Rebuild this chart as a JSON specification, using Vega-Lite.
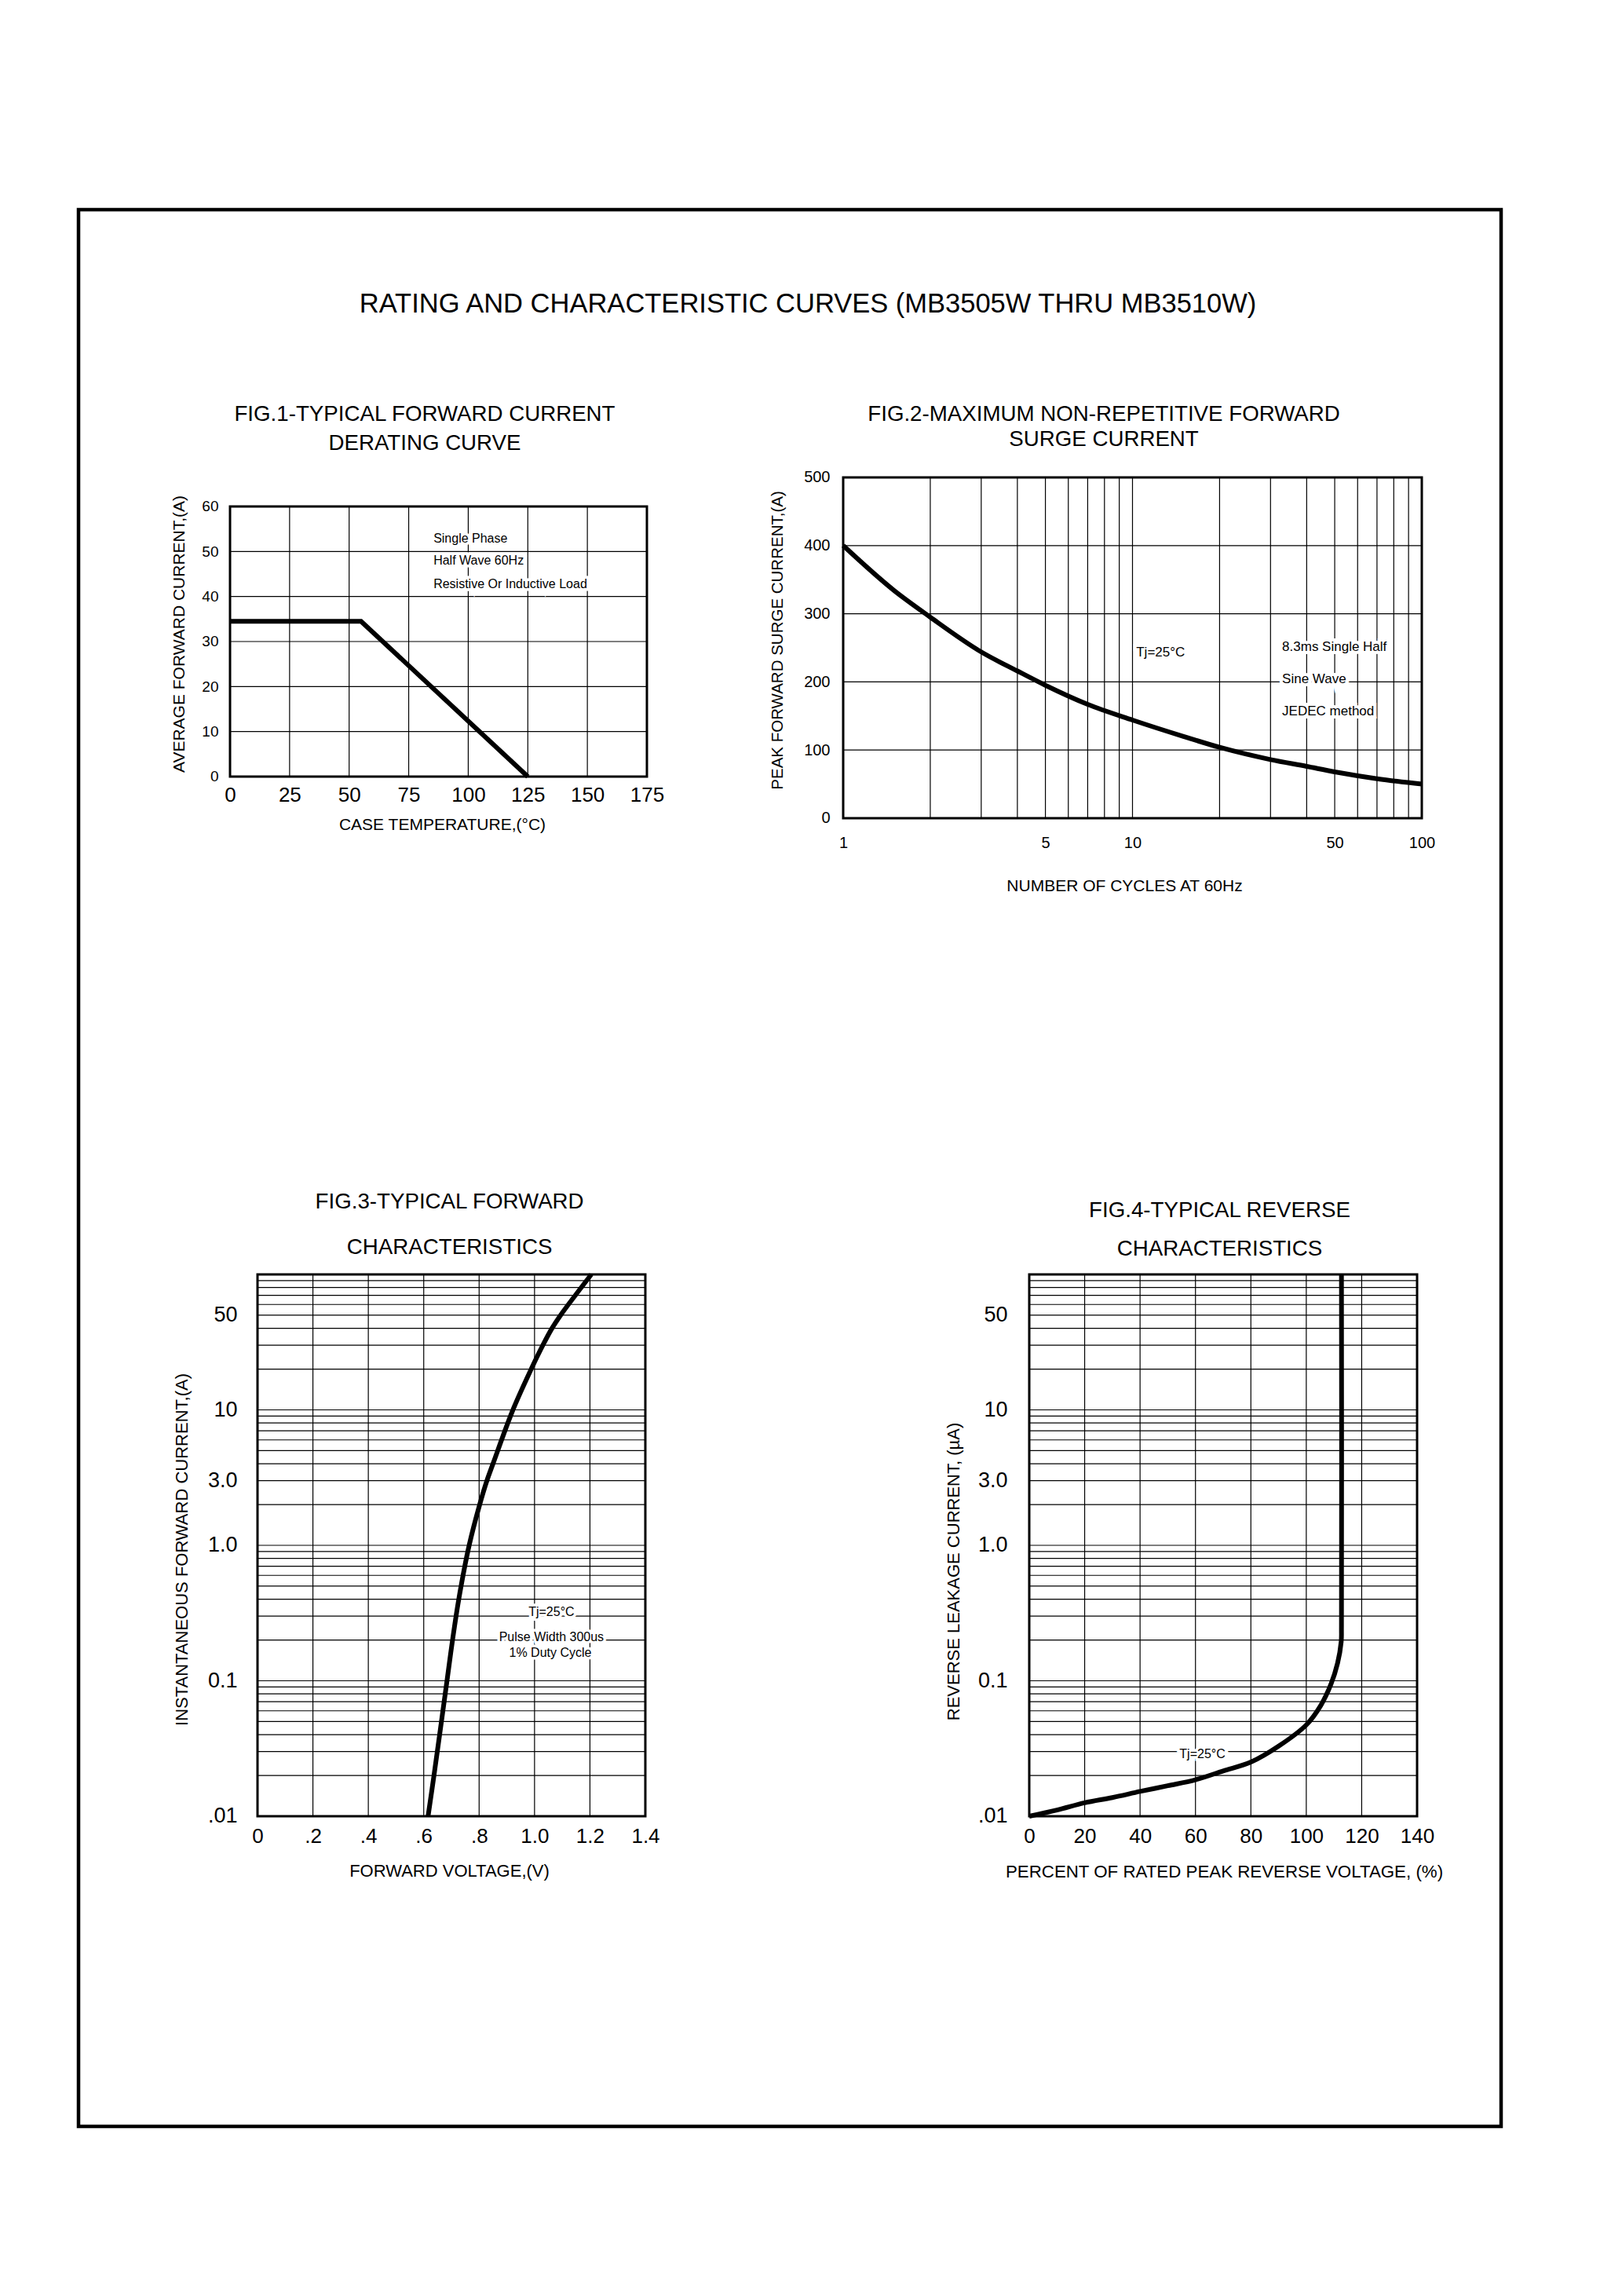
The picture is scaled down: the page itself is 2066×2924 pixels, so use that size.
{
  "$schema": "https://vega.github.io/schema/vega-lite/v6.json",
  "background": "white",
  "autosize": {"type": "none"},
  "padding": {"left": 100, "top": 267, "right": 154, "bottom": 216},
  "width": 1812,
  "height": 2441,
  "view": {"stroke": "black", "strokeWidth": 4.5},
  "title": {"text": "RATING AND CHARACTERISTIC CURVES (MB3505W THRU MB3510W)", "fontSize": 34.5, "offset": -138, "dx": 23},
  "resolve": {
    "scale": {"x": "independent", "y": "independent"},
    "axis": {"x": "independent", "y": "independent"}
  },
  "layer": [
    {
      "layer": [
        {
          "data": {"values": [{"x": 25}, {"x": 50}, {"x": 75}, {"x": 100}, {"x": 125}, {"x": 150}]},
          "mark": {"type": "rule", "color": "black", "strokeWidth": 1.2},
          "encoding": {
            "x": {"field": "x", "type": "quantitative", "scale": {"domain": [-63.606, 533.57], "nice": false, "zero": false}},
            "y": {"datum": 0, "type": "quantitative", "scale": {"domain": [-299.826, 125.93], "nice": false, "zero": false}},
            "y2": {"datum": 60}
          }
        },
        {
          "data": {"values": [{"y": 10}, {"y": 20}, {"y": 30}, {"y": 40}, {"y": 50}]},
          "mark": {"type": "rule", "color": "black", "strokeWidth": 1.2},
          "encoding": {
            "x": {"datum": 0, "type": "quantitative", "scale": {"domain": [-63.606, 533.57], "nice": false, "zero": false}},
            "x2": {"datum": 175},
            "y": {"field": "y", "type": "quantitative", "scale": {"domain": [-299.826, 125.93], "nice": false, "zero": false}}
          }
        },
        {
          "data": {"values": [{"x": 0, "y": 0, "x2": 175, "y2": 60}]},
          "mark": {"type": "rect", "fill": "white", "fillOpacity": 0, "stroke": "black", "strokeWidth": 3},
          "encoding": {
            "x": {"field": "x", "type": "quantitative", "scale": {"domain": [-63.606, 533.57], "nice": false, "zero": false}},
            "x2": {"field": "x2"},
            "y": {"field": "y", "type": "quantitative", "scale": {"domain": [-299.826, 125.93], "nice": false, "zero": false}},
            "y2": {"field": "y2"}
          }
        },
        {
          "data": {"values": [{"x": 81.73, "y": 80.44, "label": ["FIG.1-TYPICAL FORWARD CURRENT", "DERATING CURVE"]}]},
          "mark": {"type": "text", "fontSize": 27.7, "lineHeight": 37, "align": "center", "baseline": "middle", "color": "black"},
          "encoding": {
            "x": {"field": "x", "type": "quantitative", "scale": {"domain": [-63.606, 533.57], "nice": false, "zero": false}},
            "y": {"field": "y", "type": "quantitative", "scale": {"domain": [-299.826, 125.93], "nice": false, "zero": false}},
            "text": {"field": "label"}
          }
        },
        {
          "data": {"values": [
            {"x": 85.4, "y": 52.8, "label": "Single Phase"},
            {"x": 85.4, "y": 47.9, "label": "Half Wave 60Hz"},
            {"x": 85.4, "y": 42.8, "label": "Resistive Or Inductive Load"}
          ]},
          "encoding": {
            "x": {"field": "x", "type": "quantitative", "scale": {"domain": [-63.606, 533.57], "nice": false, "zero": false}},
            "y": {"field": "y", "type": "quantitative", "scale": {"domain": [-299.826, 125.93], "nice": false, "zero": false}},
            "text": {"field": "label"}
          },
          "layer": [
            {"mark": {"type": "text", "align": "left", "fontSize": 16, "color": "white", "stroke": "white", "strokeWidth": 7}},
            {"mark": {"type": "text", "align": "left", "fontSize": 16, "color": "black"}}
          ]
        },
        {
          "data": {"values": [
            {"x": 0, "y": 34.5},
            {"x": 55, "y": 34.5},
            {"x": 125, "y": 0}
          ]},
          "mark": {"type": "line", "color": "black", "strokeWidth": 6},
          "encoding": {
            "x": {
              "field": "x", "type": "quantitative",
              "scale": {"domain": [-63.606, 533.57], "nice": false, "zero": false},
              "axis": {"orient": "bottom", "offset": -1719, "values": [0, 25, 50, 75, 100, 125, 150, 175], "labelFontSize": 26, "labelPadding": 10, "titleFontSize": 21, "titleX": 463, "titleY": 61},
              "title": "CASE TEMPERATURE,(°C)"
            },
            "y": {
              "field": "y", "type": "quantitative",
              "scale": {"domain": [-299.826, 125.93], "nice": false, "zero": false},
              "axis": {"orient": "left", "offset": -193, "values": [0, 10, 20, 30, 40, 50, 60], "labelFontSize": 19, "labelPadding": 15, "titleFontSize": 21, "titleX": -65, "titleY": 540},
              "title": "AVERAGE FORWARD CURRENT,(A)"
            }
          }
        }
      ]
    },
    {
      "layer": [
        {
          "data": {"values": [{"x": 2}, {"x": 3}, {"x": 4}, {"x": 5}, {"x": 6}, {"x": 7}, {"x": 8}, {"x": 9}, {"x": 10}, {"x": 20}, {"x": 30}, {"x": 40}, {"x": 50}, {"x": 60}, {"x": 70}, {"x": 80}, {"x": 90}]},
          "mark": {"type": "rule", "color": "black", "strokeWidth": 1.2},
          "encoding": {
            "x": {"field": "x", "type": "quantitative", "scale": {"type": "log", "domain": [0.0022743, 187.97], "nice": false}},
            "y": {"datum": 0, "type": "quantitative", "scale": {"domain": [-1919.355, 892.857], "nice": false, "zero": false}},
            "y2": {"datum": 500}
          }
        },
        {
          "data": {"values": [{"y": 100}, {"y": 200}, {"y": 300}, {"y": 400}]},
          "mark": {"type": "rule", "color": "black", "strokeWidth": 1.2},
          "encoding": {
            "x": {"datum": 1, "type": "quantitative", "scale": {"type": "log", "domain": [0.0022743, 187.97], "nice": false}},
            "x2": {"datum": 100},
            "y": {"field": "y", "type": "quantitative", "scale": {"domain": [-1919.355, 892.857], "nice": false, "zero": false}}
          }
        },
        {
          "data": {"values": [{"x": 1, "y": 0, "x2": 100, "y2": 500}]},
          "mark": {"type": "rect", "fill": "white", "fillOpacity": 0, "stroke": "black", "strokeWidth": 3},
          "encoding": {
            "x": {"field": "x", "type": "quantitative", "scale": {"type": "log", "domain": [0.0022743, 187.97], "nice": false}},
            "x2": {"field": "x2"},
            "y": {"field": "y", "type": "quantitative", "scale": {"domain": [-1919.355, 892.857], "nice": false, "zero": false}},
            "y2": {"field": "y2"}
          }
        },
        {
          "data": {"values": [{"x": 7.961, "y": 592.4, "label": ["FIG.2-MAXIMUM NON-REPETITIVE FORWARD", "SURGE CURRENT"]}]},
          "mark": {"type": "text", "fontSize": 27.7, "lineHeight": 32, "align": "center", "baseline": "middle", "color": "black"},
          "encoding": {
            "x": {"field": "x", "type": "quantitative", "scale": {"type": "log", "domain": [0.0022743, 187.97], "nice": false}},
            "y": {"field": "y", "type": "quantitative", "scale": {"domain": [-1919.355, 892.857], "nice": false, "zero": false}},
            "text": {"field": "label"}
          }
        },
        {
          "data": {"values": [
            {"x": 10.3, "y": 243, "label": "Tj=25°C"},
            {"x": 32.9, "y": 251, "label": "8.3ms Single Half"},
            {"x": 32.9, "y": 204, "label": "Sine Wave"},
            {"x": 32.9, "y": 157, "label": "JEDEC method"}
          ]},
          "encoding": {
            "x": {"field": "x", "type": "quantitative", "scale": {"type": "log", "domain": [0.0022743, 187.97], "nice": false}},
            "y": {"field": "y", "type": "quantitative", "scale": {"domain": [-1919.355, 892.857], "nice": false, "zero": false}},
            "text": {"field": "label"}
          },
          "layer": [
            {"mark": {"type": "text", "align": "left", "fontSize": 17, "color": "white", "stroke": "white", "strokeWidth": 8}},
            {"mark": {"type": "text", "align": "left", "fontSize": 17, "color": "black"}}
          ]
        },
        {
          "data": {"values": [
            {"x": 1, "y": 400},
            {"x": 1.5, "y": 334},
            {"x": 2, "y": 295},
            {"x": 3, "y": 244},
            {"x": 4, "y": 216},
            {"x": 5, "y": 195},
            {"x": 7, "y": 167},
            {"x": 10, "y": 144},
            {"x": 15, "y": 120},
            {"x": 20, "y": 104},
            {"x": 30, "y": 86},
            {"x": 40, "y": 76},
            {"x": 50, "y": 68},
            {"x": 70, "y": 58},
            {"x": 100, "y": 50}
          ]},
          "mark": {"type": "line", "color": "black", "strokeWidth": 6, "interpolate": "monotone"},
          "encoding": {
            "x": {
              "field": "x", "type": "quantitative",
              "scale": {"type": "log", "domain": [0.0022743, 187.97], "nice": false},
              "axis": {
                "orient": "bottom", "offset": -1666,
                "values": [1, 5, 10, 50, 100],
                "labelExpr": "format(datum.value, 'd')",
                "labelFontSize": 20, "labelPadding": 21, "titleFontSize": 21, "titleX": 1332, "titleY": 86
              },
              "title": "NUMBER OF CYCLES AT 60Hz"
            },
            "y": {
              "field": "y", "type": "quantitative",
              "scale": {"domain": [-1919.355, 892.857], "nice": false, "zero": false},
              "axis": {"orient": "left", "offset": -974, "values": [0, 100, 200, 300, 400, 500], "labelFontSize": 20, "labelPadding": 17, "titleFontSize": 20.5, "titleX": -84, "titleY": 548},
              "title": "PEAK FORWARD SURGE CURRENT,(A)"
            }
          }
        }
      ]
    },
    {
      "layer": [
        {
          "data": {"values": [{"x": 0.2}, {"x": 0.4}, {"x": 0.6}, {"x": 0.8}, {"x": 1}, {"x": 1.2}]},
          "mark": {"type": "rule", "color": "black", "strokeWidth": 1.2},
          "encoding": {
            "x": {"field": "x", "type": "quantitative", "scale": {"domain": [-0.646154, 4.48907], "nice": false, "zero": false}},
            "y": {"datum": 0.01, "type": "quantitative", "scale": {"type": "log", "domain": [0.000051302, 7258800000], "nice": false}},
            "y2": {"datum": 100}
          }
        },
        {
          "data": {"values": [
            {"y": 0.02}, {"y": 0.03}, {"y": 0.04}, {"y": 0.05}, {"y": 0.06}, {"y": 0.07}, {"y": 0.08}, {"y": 0.09},
            {"y": 0.1}, {"y": 0.2}, {"y": 0.3}, {"y": 0.4}, {"y": 0.5}, {"y": 0.6}, {"y": 0.7}, {"y": 0.8}, {"y": 0.9},
            {"y": 1}, {"y": 2}, {"y": 3}, {"y": 4}, {"y": 5}, {"y": 6}, {"y": 7}, {"y": 8}, {"y": 9},
            {"y": 10}, {"y": 20}, {"y": 30}, {"y": 40}, {"y": 50}, {"y": 60}, {"y": 70}, {"y": 80}, {"y": 90}
          ]},
          "mark": {"type": "rule", "color": "black", "strokeWidth": 1.2},
          "encoding": {
            "x": {"datum": 0, "type": "quantitative", "scale": {"domain": [-0.646154, 4.48907], "nice": false, "zero": false}},
            "x2": {"datum": 1.4},
            "y": {"field": "y", "type": "quantitative", "scale": {"type": "log", "domain": [0.000051302, 7258800000], "nice": false}}
          }
        },
        {
          "data": {"values": [{"x": 0, "y": 0.01, "x2": 1.4, "y2": 100}]},
          "mark": {"type": "rect", "fill": "white", "fillOpacity": 0, "stroke": "black", "strokeWidth": 3},
          "encoding": {
            "x": {"field": "x", "type": "quantitative", "scale": {"domain": [-0.646154, 4.48907], "nice": false, "zero": false}},
            "x2": {"field": "x2"},
            "y": {"field": "y", "type": "quantitative", "scale": {"type": "log", "domain": [0.000051302, 7258800000], "nice": false}},
            "y2": {"field": "y2"}
          }
        },
        {
          "data": {"values": [{"x": 0.6932, "y": 340.6, "label": ["FIG.3-TYPICAL FORWARD", "CHARACTERISTICS"]}]},
          "mark": {"type": "text", "fontSize": 27.7, "lineHeight": 58, "align": "center", "baseline": "middle", "color": "black"},
          "encoding": {
            "x": {"field": "x", "type": "quantitative", "scale": {"domain": [-0.646154, 4.48907], "nice": false, "zero": false}},
            "y": {"field": "y", "type": "quantitative", "scale": {"type": "log", "domain": [0.000051302, 7258800000], "nice": false}},
            "text": {"field": "label"}
          }
        },
        {
          "data": {"values": [
            {"x": 1.061, "y": 0.322, "label": "Tj=25°C"},
            {"x": 1.061, "y": 0.209, "label": "Pulse Width 300us"},
            {"x": 1.057, "y": 0.161, "label": "1% Duty Cycle"}
          ]},
          "encoding": {
            "x": {"field": "x", "type": "quantitative", "scale": {"domain": [-0.646154, 4.48907], "nice": false, "zero": false}},
            "y": {"field": "y", "type": "quantitative", "scale": {"type": "log", "domain": [0.000051302, 7258800000], "nice": false}},
            "text": {"field": "label"}
          },
          "layer": [
            {"mark": {"type": "text", "align": "center", "fontSize": 16, "color": "white", "stroke": "white", "strokeWidth": 7}},
            {"mark": {"type": "text", "align": "center", "fontSize": 16, "color": "black"}}
          ]
        },
        {
          "data": {"values": [
            {"x": 0.6157, "y": 0.01},
            {"x": 0.637, "y": 0.02},
            {"x": 0.684, "y": 0.1},
            {"x": 0.704, "y": 0.2},
            {"x": 0.7265, "y": 0.4},
            {"x": 0.764, "y": 1},
            {"x": 0.802, "y": 2},
            {"x": 0.828, "y": 3},
            {"x": 0.85, "y": 4},
            {"x": 0.922, "y": 10},
            {"x": 0.988, "y": 20},
            {"x": 1.03, "y": 30},
            {"x": 1.063, "y": 40},
            {"x": 1.094, "y": 50},
            {"x": 1.147, "y": 70},
            {"x": 1.205, "y": 100}
          ]},
          "mark": {"type": "line", "color": "black", "strokeWidth": 6, "interpolate": "catmull-rom"},
          "encoding": {
            "x": {
              "field": "x", "type": "quantitative",
              "scale": {"domain": [-0.646154, 4.48907], "nice": false, "zero": false},
              "axis": {
                "orient": "bottom", "offset": -395,
                "values": [0, 0.2, 0.4, 0.6, 0.8, 1, 1.2, 1.4],
                "labelExpr": "datum.value == 0 ? '0' : datum.value >= 1 ? format(datum.value, '.1f') : replace(format(datum.value, '.1f'), '0.', '.')",
                "labelFontSize": 26, "labelPadding": 12, "titleFontSize": 22, "titleX": 472, "titleY": 69
              },
              "title": "FORWARD VOLTAGE,(V)"
            },
            "y": {
              "field": "y", "type": "quantitative",
              "scale": {"type": "log", "domain": [0.000051302, 7258800000], "nice": false},
              "axis": {
                "orient": "left", "offset": -228,
                "values": [0.01, 0.1, 1, 3, 10, 50],
                "labelExpr": "datum.value == 50 ? '50' : datum.value == 10 ? '10' : datum.value == 3 ? '3.0' : datum.value == 1 ? '1.0' : datum.value == 0.1 ? '0.1' : '.01'",
                "labelFontSize": 27, "labelPadding": 26, "titleFontSize": 22, "titleX": -97, "titleY": 1706
              },
              "title": "INSTANTANEOUS FORWARD CURRENT,(A)"
            }
          }
        }
      ]
    },
    {
      "layer": [
        {
          "data": {"values": [{"x": 20}, {"x": 40}, {"x": 60}, {"x": 80}, {"x": 100}, {"x": 120}]},
          "mark": {"type": "rule", "color": "black", "strokeWidth": 1.2},
          "encoding": {
            "x": {"field": "x", "type": "quantitative", "scale": {"domain": [-343.198, 170.324], "nice": false, "zero": false}},
            "y": {"datum": 0.01, "type": "quantitative", "scale": {"type": "log", "domain": [0.000051302, 7258800000], "nice": false}},
            "y2": {"datum": 100}
          }
        },
        {
          "data": {"values": [
            {"y": 0.02}, {"y": 0.03}, {"y": 0.04}, {"y": 0.05}, {"y": 0.06}, {"y": 0.07}, {"y": 0.08}, {"y": 0.09},
            {"y": 0.1}, {"y": 0.2}, {"y": 0.3}, {"y": 0.4}, {"y": 0.5}, {"y": 0.6}, {"y": 0.7}, {"y": 0.8}, {"y": 0.9},
            {"y": 1}, {"y": 2}, {"y": 3}, {"y": 4}, {"y": 5}, {"y": 6}, {"y": 7}, {"y": 8}, {"y": 9},
            {"y": 10}, {"y": 20}, {"y": 30}, {"y": 40}, {"y": 50}, {"y": 60}, {"y": 70}, {"y": 80}, {"y": 90}
          ]},
          "mark": {"type": "rule", "color": "black", "strokeWidth": 1.2},
          "encoding": {
            "x": {"datum": 0, "type": "quantitative", "scale": {"domain": [-343.198, 170.324], "nice": false, "zero": false}},
            "x2": {"datum": 140},
            "y": {"field": "y", "type": "quantitative", "scale": {"type": "log", "domain": [0.000051302, 7258800000], "nice": false}}
          }
        },
        {
          "data": {"values": [{"x": 0, "y": 0.01, "x2": 140, "y2": 100}]},
          "mark": {"type": "rect", "fill": "white", "fillOpacity": 0, "stroke": "black", "strokeWidth": 3},
          "encoding": {
            "x": {"field": "x", "type": "quantitative", "scale": {"domain": [-343.198, 170.324], "nice": false, "zero": false}},
            "x2": {"field": "x2"},
            "y": {"field": "y", "type": "quantitative", "scale": {"type": "log", "domain": [0.000051302, 7258800000], "nice": false}},
            "y2": {"field": "y2"}
          }
        },
        {
          "data": {"values": [{"x": 68.725, "y": 293.3, "label": ["FIG.4-TYPICAL REVERSE", "CHARACTERISTICS"]}]},
          "mark": {"type": "text", "fontSize": 27.7, "lineHeight": 49, "align": "center", "baseline": "middle", "color": "black"},
          "encoding": {
            "x": {"field": "x", "type": "quantitative", "scale": {"domain": [-343.198, 170.324], "nice": false, "zero": false}},
            "y": {"field": "y", "type": "quantitative", "scale": {"type": "log", "domain": [0.000051302, 7258800000], "nice": false}},
            "text": {"field": "label"}
          }
        },
        {
          "data": {"values": [
            {"x": 62.5, "y": 0.0286, "label": "Tj=25°C"}
          ]},
          "encoding": {
            "x": {"field": "x", "type": "quantitative", "scale": {"domain": [-343.198, 170.324], "nice": false, "zero": false}},
            "y": {"field": "y", "type": "quantitative", "scale": {"type": "log", "domain": [0.000051302, 7258800000], "nice": false}},
            "text": {"field": "label"}
          },
          "layer": [
            {"mark": {"type": "text", "align": "center", "fontSize": 16, "color": "white", "stroke": "white", "strokeWidth": 7}},
            {"mark": {"type": "text", "align": "center", "fontSize": 16, "color": "black"}}
          ]
        },
        {
          "data": {"values": [
            {"x": 0, "y": 0.01},
            {"x": 10, "y": 0.0111},
            {"x": 20, "y": 0.01257},
            {"x": 30, "y": 0.01374},
            {"x": 40, "y": 0.01524},
            {"x": 50, "y": 0.0168},
            {"x": 60, "y": 0.01858},
            {"x": 70, "y": 0.0216},
            {"x": 80, "y": 0.0251},
            {"x": 90, "y": 0.0329},
            {"x": 100, "y": 0.0472},
            {"x": 105.2, "y": 0.0656},
            {"x": 108.9, "y": 0.0942},
            {"x": 111.3, "y": 0.135},
            {"x": 112.6, "y": 0.194},
            {"x": 112.7, "y": 0.25},
            {"x": 112.7, "y": 100}
          ]},
          "mark": {"type": "line", "color": "black", "strokeWidth": 6, "interpolate": "catmull-rom"},
          "encoding": {
            "x": {
              "field": "x", "type": "quantitative",
              "scale": {"domain": [-343.198, 170.324], "nice": false, "zero": false},
              "axis": {"orient": "bottom", "offset": -395, "values": [0, 20, 40, 60, 80, 100, 120, 140], "labelFontSize": 26, "labelPadding": 12, "titleFontSize": 22.3, "titleX": 1459, "titleY": 70},
              "title": "PERCENT OF RATED PEAK REVERSE VOLTAGE, (%)"
            },
            "y": {
              "field": "y", "type": "quantitative",
              "scale": {"type": "log", "domain": [0.000051302, 7258800000], "nice": false},
              "axis": {
                "orient": "left", "offset": -1211,
                "values": [0.01, 0.1, 1, 3, 10, 50],
                "labelExpr": "datum.value == 50 ? '50' : datum.value == 10 ? '10' : datum.value == 3 ? '3.0' : datum.value == 1 ? '1.0' : datum.value == 0.1 ? '0.1' : '.01'",
                "labelFontSize": 27, "labelPadding": 28, "titleFontSize": 22, "titleX": -97, "titleY": 1734
              },
              "title": "REVERSE LEAKAGE CURRENT, (µA)"
            },
            "order": {"field": "y", "type": "quantitative"}
          }
        }
      ]
    }
  ],
  "config": {
    "font": "Liberation Sans",
    "axis": {
      "grid": false,
      "domain": false,
      "ticks": false,
      "tickSize": 0,
      "labelColor": "black",
      "labelFont": "Liberation Sans",
      "labelFlush": false,
      "labelOverlap": false,
      "labelBound": false,
      "titleColor": "black",
      "titleFont": "Liberation Sans",
      "titleFontWeight": "normal",
      "titleBaseline": "middle",
      "titleAlign": "center",
      "titlePadding": 0
    },
    "title": {
      "font": "Liberation Sans",
      "fontSize": 27,
      "fontWeight": "normal",
      "color": "black",
      "anchor": "middle",
      "frame": "group",
      "baseline": "bottom"
    },
    "text": {"font": "Liberation Sans"}
  }
}
